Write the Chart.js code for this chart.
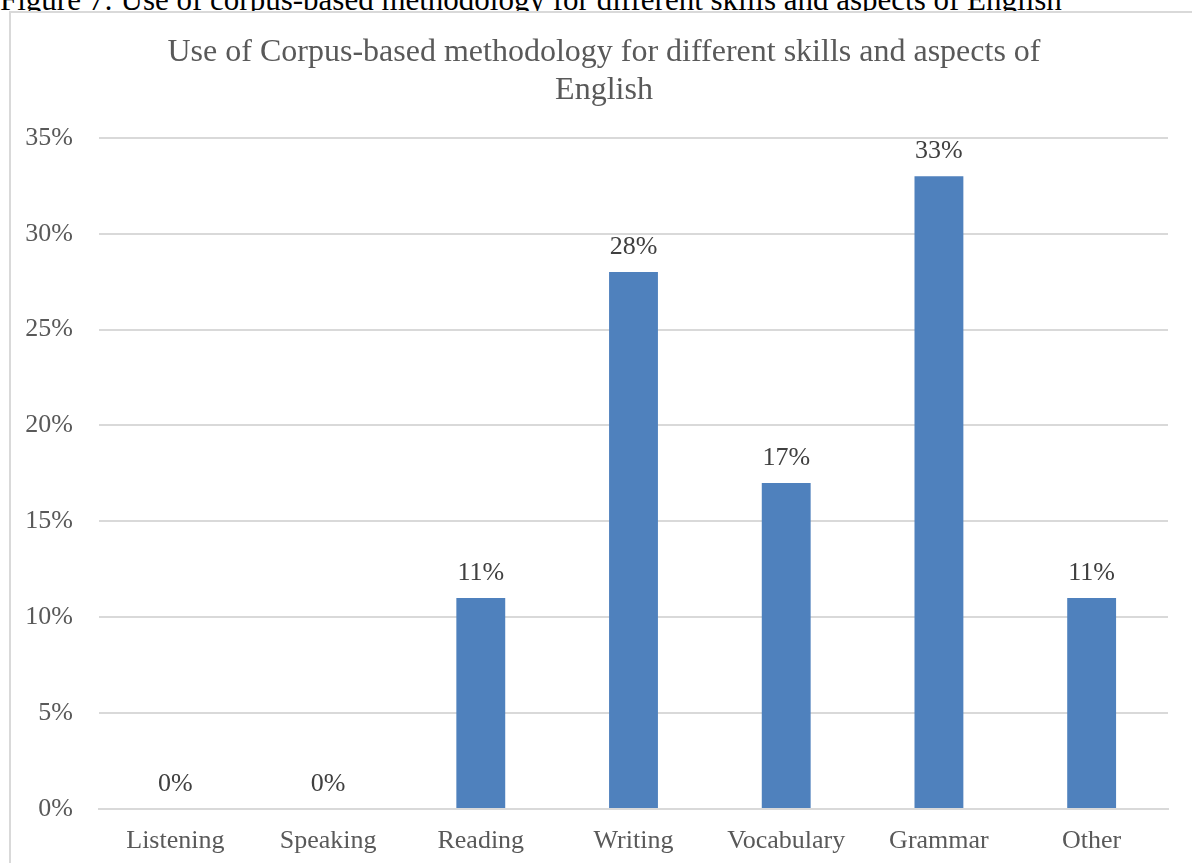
<!DOCTYPE html>
<html>
<head>
<meta charset="utf-8">
<script src="https://cdn.jsdelivr.net/npm/chart.js@4/dist/chart.umd.min.js"></script>
<style>
    html, body { margin: 0; padding: 0; background: #fff; overflow: hidden; }
    body { width: 1192px; height: 863px; position: relative; }
    #caption {
        position: absolute; left: 0; top: -16px;
        font-family: "Liberation Serif", "Times New Roman", serif;
        font-size: 31px; line-height: 1; color: #000; white-space: nowrap;
    }
    #frame {
        position: absolute; left: 9px; top: 11px; right: -4px; bottom: -4px;
        border-left: 2px solid #d9d9d9; border-top: 2px solid #d9d9d9;
        background: #fff;
    }
    #chart { position: absolute; left: 0; top: 0; }
</style>
</head>
<body>
<div id="caption">Figure 7: Use of corpus-based methodology for different skills and aspects of English</div>
<div id="frame"></div>
<canvas id="chart" width="1192" height="863"></canvas>
<script>
const categories = ['Listening', 'Speaking', 'Reading', 'Writing', 'Vocabulary', 'Grammar', 'Other'];
const shares = [0, 0, 11, 28, 17, 33, 11];
const yTicks = [0, 5, 10, 15, 20, 25, 30, 35];

const serif = '"Liberation Serif", "Times New Roman", serif';

// value labels above each bar
const barLabels = {
    id: 'barLabels',
    afterDatasetsDraw(chart) {
        const ctx = chart.ctx;
        const meta = chart.getDatasetMeta(0);
        ctx.save();
        ctx.font = `26px ${serif}`;
        ctx.fillStyle = '#404040';
        ctx.textAlign = 'center';
        ctx.textBaseline = 'middle';
        meta.data.forEach((bar, i) => {
            ctx.fillText(shares[i] + '%', bar.x, bar.y - 25);
        });
        ctx.restore();
    }
};

// title is centred inside the framed box, not over the whole canvas
const titleShift = {
    id: 'titleShift',
    afterLayout(chart) {
        if (chart.titleBlock) chart.titleBlock.left += 40;
    }
};

new Chart(document.getElementById('chart'), {
    type: 'bar',
    data: {
        labels: categories,
        datasets: [{
            data: shares,
            backgroundColor: '#4f81bd',
            categoryPercentage: 1,
            barPercentage: 0.32
        }]
    },
    options: {
        responsive: false,
        animation: false,
        layout: { padding: { left: 0, right: 24, top: 0, bottom: 0 } },
        plugins: {
            legend: { display: false },
            tooltip: { enabled: false },
            title: {
                display: true,
                text: ['Use of Corpus-based methodology for different skills and aspects of', 'English'],
                color: '#595959',
                font: { family: serif, size: 32, weight: 'normal', lineHeight: 1.2 },
                padding: { top: 33, bottom: 28 }
            }
        },
        scales: {
            x: {
                grid: { display: false },
                border: { color: '#d9d9d9', width: 2 },
                ticks: {
                    color: '#595959',
                    font: { family: serif, size: 26 },
                    padding: 9,
                    maxRotation: 0,
                    autoSkip: false
                },
                afterFit: s => { s.height = 54; }
            },
            y: {
                min: 0,
                max: 35,
                afterBuildTicks: s => { s.ticks = yTicks.map(v => ({ value: v })); },
                grid: { color: '#d9d9d9', lineWidth: 2, drawTicks: false },
                border: { display: false },
                ticks: {
                    color: '#595959',
                    font: { family: serif, size: 26 },
                    padding: 26,
                    callback: v => v + '%'
                },
                afterFit: s => { s.width = 99; }
            }
        }
    },
    plugins: [barLabels, titleShift]
});
</script>
</body>
</html>
